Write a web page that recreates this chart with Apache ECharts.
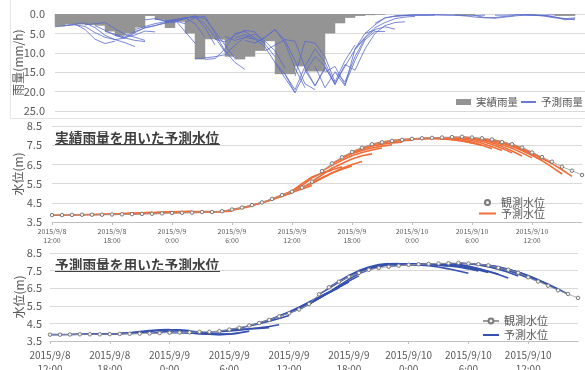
<!DOCTYPE html>
<html>
<head>
<meta charset="utf-8">
<script src="https://cdn.jsdelivr.net/npm/echarts@6/dist/echarts.min.js"></script>
<style>
  html, body { margin: 0; padding: 0; background: #fff; }
  #chart { width: 585px; height: 370px; }
</style>
</head>
<body>
<div id="chart"></div>
<script>
// Hour index 0 = 2015/9/8 12:00, one step per hour.
const tickLabels = ['2015/9/8\n12:00', '2015/9/8\n18:00', '2015/9/9\n0:00', '2015/9/9\n6:00',
  '2015/9/9\n12:00', '2015/9/9\n18:00', '2015/9/10\n0:00', '2015/9/10\n6:00', '2015/9/10\n12:00'];

// Observed hourly rainfall (mm/h), hours 0..52
const rainObs = [3.2, 2.7, 2.7, 2.8, 3.0, 4.5, 5.6, 5.0, 3.5, 0.5,
  1.5, 3.6, 2.0, 5.0, 11.7, 6.5, 6.6, 11.0, 11.7, 11.0,
  9.5, 7.0, 15.5, 15.5, 13.5, 14.8, 14.8, 5.0, 2.4, 1.0,
  0.5, 0.3, 0.2, 0, 0, 0, 0, 0, 0, 0,
  0.3, 0.3, 0, 0, 0, 0, 0, 0, 0, 0,
  0.5, 0.5, 0];

// Forecast rainfall runs: [start hour, hourly values]
const rainFc = [
  [0, [3.3, 3.0, 2.6, 4.0, 6.5, 7.6, 7.0]],
  [1, [3.0, 2.8, 3.2, 4.8, 6.0, 6.6, 6.2]],
  [2, [2.6, 2.3, 3.5, 5.5, 6.6, 7.4, 8.4]],
  [3, [2.8, 2.5, 2.2, 3.8, 5.2, 6.0, 6.8]],
  [4, [3.0, 4.2, 5.5, 6.2, 6.8, 7.1]],
  [5, [4.5, 5.2, 6.0, 5.4, 4.4, 4.6]],
  [6, [5.5, 6.2, 4.8, 3.5, 3.0, 2.4, 1.8]],
  [7, [5.8, 4.5, 3.6, 3.0, 2.2, 1.8, 2.5]],
  [8, [4.0, 3.2, 2.5, 2.0, 1.5, 4.5, 7.5]],
  [9, [1.5, 1.2, 1.8, 1.4, 1.0, 2.5, 6.0]],
  [10, [1.2, 1.8, 2.2, 1.0, 0.6, 3.5, 8.0]],
  [11, [2.0, 1.5, 1.0, 0.8, 2.5, 6.0, 9.8]],
  [12, [1.8, 1.2, 0.5, 1.2, 4.5, 8.0, 11.5]],
  [13, [2.2, 1.0, 0.6, 5.0, 9.5, 12.5, 14.3]],
  [14, [11.5, 11.3, 11.0, 10.5, 8.0, 6.0, 6.5]],
  [15, [11.7, 11.5, 9.0, 5.0, 4.5, 6.2, 7.5]],
  [16, [6.5, 7.2, 5.5, 4.2, 4.6, 7.8, 11.0]],
  [17, [5.8, 6.8, 6.0, 5.2, 7.0, 9.5, 14.0]],
  [18, [6.2, 5.3, 6.5, 8.5, 12.5, 16.5, 20.3]],
  [19, [6.8, 7.5, 6.0, 4.0, 7.5, 14.0, 19.0]],
  [20, [7.5, 6.0, 4.0, 6.8, 12.0, 18.0, 19.5]],
  [21, [9.5, 8.0, 6.6, 7.0, 13.8, 18.5, 14.0]],
  [22, [12.5, 15.5, 20.3, 15.0, 11.0, 13.5, 18.2]],
  [23, [15.5, 19.5, 13.5, 9.0, 12.5, 18.2, 13.0]],
  [24, [16.0, 7.0, 7.5, 11.0, 17.5, 12.0, 8.0]],
  [25, [14.5, 18.5, 13.8, 18.0, 13.5, 9.2, 6.2]],
  [26, [13.5, 19.0, 15.0, 18.5, 9.0, 5.0, 4.1]],
  [27, [15.0, 13.5, 18.2, 12.0, 6.7, 4.5, 4.5]],
  [28, [14.8, 17.5, 11.0, 6.2, 4.0, 3.3, 3.9]],
  [29, [13.0, 14.5, 9.0, 5.0, 3.0, 2.2, 2.0]],
  [30, [9.0, 6.0, 3.5, 2.2, 1.2, 0.8, 0.6]],
  [31, [5.0, 2.8, 1.0, 0.6, 0.4, 0.3, 0.3]],
  [32, [2.4, 1.0, 0.5, 0.4, 0.3, 0.3, 0.3]],
  [34, [0.5, 0.3, 0.2, 0.2, 0.2, 0.3, 0.3]],
  [37, [0.3, 0.2, 0.2, 0.3, 0.5, 0.4, 0.3]],
  [40, [0.3, 0.4, 0.8, 1.0, 0.9, 0.6, 0.4]],
  [42, [0.4, 0.9, 1.1, 0.8, 0.5, 0.3, 0.2]],
  [44, [0.3, 0.3, 0.2, 0.2, 0.3, 0.3, 0.2]],
  [46, [0.2, 0.2, 0.3, 0.6, 1.0, 1.2, 1.0]],
  [47, [0.2, 0.3, 0.4, 0.8, 1.5, 1.2]],
  [48, [0.3, 0.4, 0.8, 1.2, 1.5]]
];

// Observed water level (m), hours 0..53
const levelObs = [3.86, 3.86, 3.87, 3.88, 3.88, 3.88, 3.89, 3.90, 3.91, 3.92,
  3.93, 3.95, 3.97, 3.98, 3.99, 4.02, 4.02, 4.06, 4.15, 4.25,
  4.38, 4.52, 4.70, 4.90, 5.08, 5.29, 5.60, 6.15, 6.55, 6.87,
  7.15, 7.37, 7.55, 7.65, 7.72, 7.78, 7.83, 7.86, 7.88, 7.90,
  7.92, 7.94, 7.90, 7.86, 7.80, 7.66, 7.55, 7.38, 7.12, 6.88,
  6.64, 6.38, 6.17, 5.95];

// Water level forecasts driven by observed rainfall: [start hour, values]
const levelFcObsRain = [
  [0, [3.86, 3.86, 3.87, 3.88, 3.89, 3.90, 3.91]],
  [2, [3.87, 3.88, 3.89, 3.90, 3.92, 3.94, 3.95]],
  [4, [3.88, 3.89, 3.91, 3.93, 3.96, 3.98, 4.00]],
  [6, [3.89, 3.91, 3.93, 3.96, 3.99, 4.02, 4.04]],
  [8, [3.91, 3.93, 3.96, 4.00, 4.03, 4.05, 4.06]],
  [10, [3.93, 3.96, 4.00, 4.03, 4.05, 4.05, 4.04]],
  [12, [3.97, 3.99, 4.01, 4.02, 4.02, 4.03, 4.06]],
  [14, [3.99, 4.01, 4.02, 4.05, 4.12, 4.22, 4.34]],
  [16, [4.02, 4.06, 4.14, 4.24, 4.36, 4.50, 4.66]],
  [18, [4.15, 4.24, 4.36, 4.50, 4.66, 4.84, 5.02]],
  [20, [4.38, 4.52, 4.68, 4.86, 5.04, 5.22, 5.40]],
  [22, [4.70, 4.90, 5.10, 5.40, 5.80, 6.05, 6.20]],
  [23, [4.90, 5.12, 5.50, 5.85, 6.05, 6.22, 6.38]],
  [24, [5.08, 5.30, 5.55, 5.80, 6.05, 6.25, 6.42]],
  [25, [5.29, 5.50, 5.78, 6.05, 6.30, 6.50, 6.65]],
  [26, [5.60, 5.95, 6.30, 6.55, 6.78, 6.95, 7.05]],
  [27, [6.15, 6.45, 6.72, 6.95, 7.12, 7.25, 7.35]],
  [28, [6.55, 6.82, 7.05, 7.22, 7.35, 7.45, 7.52]],
  [29, [6.87, 7.10, 7.30, 7.45, 7.55, 7.62, 7.66]],
  [30, [7.15, 7.35, 7.52, 7.62, 7.70, 7.74, 7.76]],
  [32, [7.55, 7.66, 7.74, 7.79, 7.82, 7.84, 7.85]],
  [34, [7.72, 7.78, 7.82, 7.84, 7.85, 7.85, 7.84]],
  [36, [7.83, 7.85, 7.85, 7.83, 7.79, 7.72, 7.62]],
  [37, [7.86, 7.87, 7.85, 7.80, 7.72, 7.62, 7.48]],
  [38, [7.88, 7.87, 7.83, 7.76, 7.65, 7.50, 7.32]],
  [39, [7.90, 7.88, 7.83, 7.74, 7.60, 7.42, 7.22]],
  [40, [7.92, 7.89, 7.82, 7.70, 7.54, 7.34, 7.10]],
  [41, [7.94, 7.88, 7.78, 7.63, 7.44, 7.20, 6.94]],
  [42, [7.90, 7.82, 7.70, 7.54, 7.34, 7.10, 6.84]],
  [43, [7.86, 7.76, 7.62, 7.44, 7.22, 6.97, 6.70]],
  [44, [7.80, 7.68, 7.52, 7.32, 7.08, 6.82, 6.55]],
  [45, [7.66, 7.48, 7.26, 7.00, 6.70, 6.36, 6.00]],
  [46, [7.55, 7.36, 7.12, 6.84, 6.54, 6.22, 5.88]]
];

// Water level forecasts driven by forecast rainfall: [start hour, values]
const levelFcFcRain = [
  [0, [3.86, 3.86, 3.87, 3.88, 3.89, 3.90, 3.91]],
  [2, [3.87, 3.88, 3.89, 3.90, 3.91, 3.92, 3.94]],
  [4, [3.88, 3.89, 3.90, 3.92, 3.95, 3.99, 4.04]],
  [6, [3.89, 3.92, 3.97, 4.04, 4.10, 4.14, 4.15]],
  [8, [3.91, 3.96, 4.04, 4.10, 4.13, 4.13, 4.10]],
  [10, [3.93, 3.99, 4.05, 4.08, 4.06, 4.01, 3.96]],
  [12, [3.97, 3.98, 3.96, 3.92, 3.88, 3.87, 3.90]],
  [13, [3.98, 3.96, 3.92, 3.88, 3.86, 3.88, 3.94]],
  [14, [3.99, 3.97, 3.93, 3.90, 3.90, 3.96, 4.06]],
  [16, [4.02, 4.03, 4.07, 4.12, 4.18, 4.22, 4.26]],
  [17, [4.06, 4.12, 4.16, 4.20, 4.25, 4.32, 4.42]],
  [18, [4.15, 4.24, 4.35, 4.48, 4.62, 4.78, 4.95]],
  [20, [4.38, 4.52, 4.70, 4.90, 5.12, 5.36, 5.62]],
  [22, [4.70, 4.92, 5.15, 5.42, 5.72, 6.00, 6.28]],
  [23, [4.90, 5.14, 5.40, 5.68, 5.98, 6.26, 6.52]],
  [24, [5.08, 5.32, 5.62, 5.92, 6.24, 6.55, 6.85]],
  [25, [5.29, 5.60, 5.92, 6.25, 6.58, 6.90, 7.20]],
  [26, [5.60, 5.92, 6.28, 6.65, 7.00, 7.32, 7.55]],
  [27, [6.15, 6.50, 6.85, 7.18, 7.45, 7.65, 7.78]],
  [28, [6.55, 6.90, 7.22, 7.50, 7.70, 7.84, 7.90]],
  [29, [6.87, 7.18, 7.45, 7.66, 7.80, 7.88, 7.90]],
  [30, [7.15, 7.42, 7.62, 7.76, 7.84, 7.88, 7.89]],
  [32, [7.55, 7.72, 7.83, 7.88, 7.89, 7.88, 7.86]],
  [34, [7.72, 7.80, 7.84, 7.85, 7.84, 7.81, 7.77]],
  [36, [7.83, 7.82, 7.78, 7.70, 7.60, 7.48, 7.35]],
  [37, [7.86, 7.86, 7.82, 7.77, 7.70, 7.60, 7.48]],
  [38, [7.88, 7.86, 7.82, 7.75, 7.66, 7.54, 7.40]],
  [39, [7.90, 7.87, 7.81, 7.72, 7.60, 7.45, 7.30]],
  [40, [7.92, 7.86, 7.76, 7.62, 7.46, 7.28, 7.08]],
  [41, [7.94, 7.89, 7.82, 7.72, 7.58, 7.40, 7.20]],
  [42, [7.90, 7.86, 7.78, 7.66, 7.50, 7.30, 7.08]],
  [43, [7.86, 7.80, 7.70, 7.55, 7.36, 7.14, 6.90]],
  [44, [7.80, 7.72, 7.58, 7.40, 7.18, 6.94, 6.70]],
  [45, [7.66, 7.56, 7.40, 7.20, 6.96, 6.70, 6.42]],
  [46, [7.55, 7.42, 7.22, 6.98, 6.72, 6.45, 6.16]]
];

const FONT = '"Noto Sans CJK JP", "Noto Sans", sans-serif';
const GRAY_TXT = '#595959';
const GRID_LINE = '#d9d9d9';
const ORANGE = '#F26C36';
const BLUE = '#3550AE';
const RAIN_BLUE = '#5A6CCB';

// Top panel spans 53 hours over 530 px, so one hourly bar is about 10 px wide.
const RAIN_HOURS = 53;
const RAIN_BAR_PX = 10.5;

function runSeries(list, name, xIdx, yIdx, color, width, opacity) {
  return list.map(([start, vals]) => ({
    type: 'line', name: name, xAxisIndex: xIdx, yAxisIndex: yIdx,
    data: vals.map((v, k) => [start + k, v]),
    symbol: 'none', silent: true, z: 2,
    lineStyle: { color: color, width: width, opacity: opacity },
    itemStyle: { color: color }
  }));
}

function observedSeries(name, xIdx, yIdx) {
  return {
    type: 'line', name: name, xAxisIndex: xIdx, yAxisIndex: yIdx,
    data: levelObs.map((v, h) => [h, v]),
    symbol: 'circle', symbolSize: 3.5, showSymbol: true, silent: true, z: 5,
    lineStyle: { color: '#9a9a9a', width: 0.8 },
    itemStyle: { color: '#f4f4f4', borderColor: '#7a7a7a', borderWidth: 1 }
  };
}

const hourLabel = v => (v % 6 === 0 && tickLabels[v / 6] !== undefined) ? tickLabels[v / 6] : '';

function levelYAxis(gridIndex, nameGap, labelMargin) {
  return {
    type: 'value', gridIndex: gridIndex, min: 3.5, max: 8.5, interval: 1,
    name: '水位(m)', nameLocation: 'middle', nameGap: nameGap, nameRotate: 90, nameMoveOverlap: false,
    nameTextStyle: { fontSize: 12, color: GRAY_TXT, fontFamily: FONT },
    axisLine: { show: false }, axisTick: { show: false },
    axisLabel: { fontSize: 11, color: GRAY_TXT, margin: labelMargin, formatter: v => v.toFixed(1) },
    splitLine: { lineStyle: { color: GRID_LINE, width: 1 } }
  };
}

function hourXAxis(gridIndex, fontSize, lineHeight, margin) {
  return {
    type: 'value', gridIndex: gridIndex, min: 0, max: 53, interval: 6,
    axisLine: { show: true, onZero: false, lineStyle: { color: '#bfbfbf' } },
    axisTick: { show: true, length: 3, lineStyle: { color: '#bfbfbf' } },
    axisLabel: { fontSize: fontSize, lineHeight: lineHeight, color: GRAY_TXT, margin: margin,
      formatter: hourLabel, showMaxLabel: false },
    splitLine: { show: false }
  };
}

const legendText = (fs, lh) => ({ fontSize: fs, lineHeight: lh, color: GRAY_TXT, fontFamily: FONT });

const chart = echarts.init(document.getElementById('chart'), null, { renderer: 'canvas' });

const gridBase = { containLabel: false, outerBoundsMode: 'none' };

const option = {
  animation: false,
  backgroundColor: '#ffffff',
  textStyle: { fontFamily: FONT },
  grid: [
    Object.assign({ left: 55, right: 0, top: 14, height: 97 }, gridBase),
    Object.assign({ left: 52, right: 3, top: 126, height: 96 }, gridBase),
    Object.assign({ left: 50, right: 7, top: 253, height: 88 }, gridBase)
  ],
  xAxis: [
    { type: 'value', gridIndex: 0, min: 0, max: RAIN_HOURS, show: false },
    hourXAxis(1, 7, 9, 5),
    hourXAxis(2, 10, 14, 7)
  ],
  yAxis: [
    { type: 'value', gridIndex: 0, min: 0, max: 25, interval: 5, inverse: true,
      name: '雨量(mm/h)', nameLocation: 'middle', nameGap: 31, nameRotate: 90, nameMoveOverlap: false,
      nameTextStyle: { fontSize: 12, color: GRAY_TXT, fontFamily: FONT },
      axisLine: { show: false }, axisTick: { show: false },
      axisLabel: { fontSize: 11, color: GRAY_TXT, margin: 10, formatter: v => v.toFixed(1) },
      splitLine: { lineStyle: { color: GRID_LINE, width: 1 } } },
    levelYAxis(1, 28, 10),
    levelYAxis(2, 25, 8)
  ],
  legend: [
    { left: 456, top: 96, width: 200, padding: 0, itemWidth: 15, itemHeight: 6, itemGap: 2, selectedMode: false,
      textStyle: legendText(10.5, 12),
      data: [{ name: '実績雨量', icon: 'rect' }, { name: '予測雨量', itemStyle: { opacity: 0 } }] },
    { left: 478, top: 197, padding: 0, orient: 'vertical', itemWidth: 17, itemHeight: 5, itemGap: 0, selectedMode: false,
      textStyle: legendText(11, 10),
      data: [{ name: '観測水位', icon: 'circle' }, { name: '予測水位', itemStyle: { opacity: 0 } }] },
    { left: 482, top: 315, padding: 0, orient: 'vertical', itemWidth: 16, itemHeight: 6, itemGap: 2, selectedMode: false,
      textStyle: legendText(11, 12),
      data: [{ name: '観測水位\u200b' }, { name: '予測水位\u200b', itemStyle: { opacity: 0 } }] }
  ],
  graphic: [
    { type: 'line', shape: { x1: 10.5, y1: 0, x2: 10.5, y2: 118 }, style: { stroke: '#e4e4e4', lineWidth: 1 }, silent: true },
    { type: 'line', shape: { x1: 10, y1: 118.5, x2: 585, y2: 118.5 }, style: { stroke: '#e4e4e4', lineWidth: 1 }, silent: true },
    { type: 'text', left: 55, top: 131, silent: true,
      style: { text: '実績雨量を用いた予測水位', font: 'bold 13.7px ' + FONT, fill: '#404040' } },
    { type: 'line', shape: { x1: 55, y1: 144.5, x2: 220, y2: 144.5 }, style: { stroke: '#404040', lineWidth: 1 }, silent: true },
    { type: 'text', left: 55, top: 258, silent: true,
      style: { text: '予測雨量を用いた予測水位', font: 'bold 13.7px ' + FONT, fill: '#404040' } },
    { type: 'line', shape: { x1: 55, y1: 271.5, x2: 220, y2: 271.5 }, style: { stroke: '#404040', lineWidth: 1 }, silent: true }
  ],
  series: [
    { type: 'bar', name: '実績雨量', xAxisIndex: 0, yAxisIndex: 0,
      data: rainObs.map((v, h) => [h + 0.5, v]),
      barWidth: RAIN_BAR_PX, silent: true, z: 1,
      itemStyle: { color: '#949494', borderWidth: 0 } },
    ...runSeries(rainFc, '予測雨量', 0, 0, RAIN_BLUE, 0.9, 0.9),
    ...runSeries(levelFcObsRain, '予測水位', 1, 1, ORANGE, 1.6, 1),
    observedSeries('観測水位', 1, 1),
    observedSeries('観測水位\u200b', 2, 2),
    ...runSeries(levelFcFcRain, '予測水位\u200b', 2, 2, BLUE, 1.6, 1)
  ]
};

chart.setOption(option);
</script>
</body>
</html>
